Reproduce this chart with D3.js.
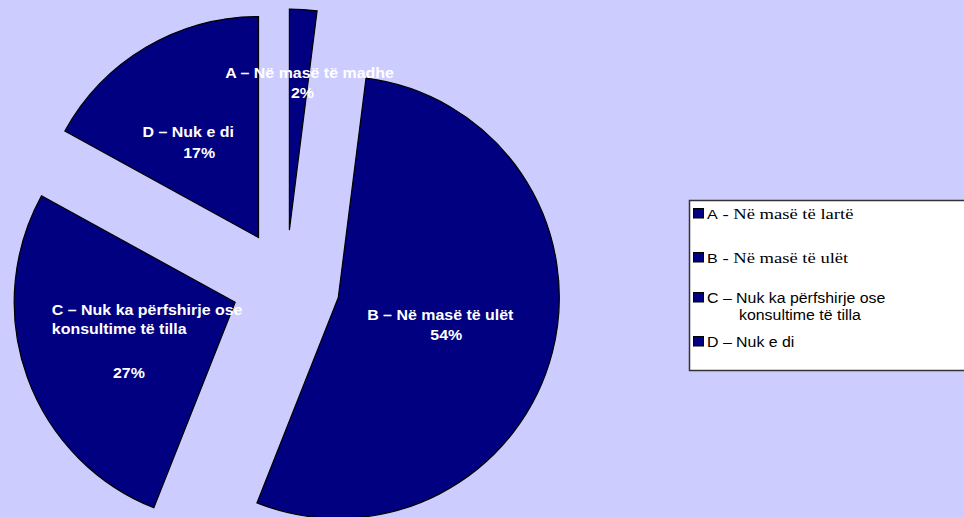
<!DOCTYPE html>
<html>
<head>
<meta charset="utf-8">
<script src="https://cdn.jsdelivr.net/npm/d3@7"></script>
<style>
  html, body { margin: 0; padding: 0; background: #CCCCFF; }
  svg { display: block; }
</style>
</head>
<body>
<svg id="chart" width="964" height="517"></svg>
<script>
// ---- Data ----
const categories = ["A – Në masë të madhe", "B – Në masë të ulët", "C – Nuk ka përfshirje ose konsultime të tilla", "D – Nuk e di"];
const values = [2, 54, 27, 17];
const legendLabels = ["A - Në masë të lartë", "B - Në masë të ulët", "C – Nuk ka përfshirje ose konsultime të tilla", "D – Nuk e di"];

// ---- Layout ----
const W = 964, H = 517;
const cx = 286, cy = 284, R = 221, explode = 54;
const fill = "#000080";
const SANS = "'Liberation Sans', Arial, sans-serif";
const SERIF = "'Liberation Serif', 'Times New Roman', serif";
const svg = d3.select("#chart");

svg.append("rect").attr("width", W).attr("height", H).attr("fill", "#CCCCFF");

const pie = d3.pie().sort(null).value(d => d).startAngle(0).endAngle(2 * Math.PI);
const arcs = pie(values);
const arc = d3.arc().innerRadius(0).outerRadius(R);

function polar(angle, r) { return [r * Math.sin(angle), -r * Math.cos(angle)]; }

const g = svg.append("g").attr("transform", `translate(${cx},${cy})`);

const apex = arcs.map(a => polar((a.startAngle + a.endAngle) / 2, explode));

g.selectAll("path.slice").data(arcs).join("path")
  .attr("class", "slice")
  .attr("d", arc)
  .attr("transform", (d, i) => `translate(${apex[i][0]},${apex[i][1]})`)
  .attr("fill", fill)
  .attr("stroke", "#000")
  .attr("stroke-width", 1.2)
  .attr("stroke-linejoin", "miter");

// text helper with horizontal stretch (the reference text is drawn wider than its height)
function stretchedText(parent, x, y, sx, txt) {
  return parent.append("text")
    .attr("transform", `translate(${x},${y}) scale(${sx},1)`)
    .text(txt);
}

// ---- Slice labels (Excel best-fit placement) ----
const deg = Math.PI / 180;
const pct = i => values[i] + "%";
const labelLayout = [
  { a: 6.3 * deg, r: 147, lines: [
      { t: categories[0], dx: 4, dy: -6, anchor: "middle" },
      { t: pct(0), dx: -3, dy: 14, anchor: "middle" } ] },
  { a: 107.4 * deg, r: 110, lines: [
      { t: categories[1], dx: -3, dy: -10, anchor: "middle" },
      { t: pct(1), dx: 3, dy: 10, anchor: "middle" } ] },
  { a: 245.6 * deg, r: 97, lines: [
      { t: "C – Nuk ka përfshirje ose", dx: -95, dy: -27, anchor: "start" },
      { t: "konsultime të tilla", dx: -95, dy: -8, anchor: "start" },
      { t: pct(2), dx: -18, dy: 36, anchor: "middle" } ] },
  { a: 323.7 * deg, r: 112, lines: [
      { t: categories[3], dx: -4, dy: -10, anchor: "middle" },
      { t: pct(3), dx: 7, dy: 11, anchor: "middle" } ] }
];

labelLayout.forEach((L, i) => {
  const p = polar(L.a, L.r);
  const ax = apex[i][0] + p[0], ay = apex[i][1] + p[1];
  L.lines.forEach(line => {
    stretchedText(g, ax + line.dx, ay + line.dy, 1.14, line.t)
      .attr("text-anchor", line.anchor)
      .attr("font-family", SANS)
      .attr("font-weight", "bold")
      .attr("font-size", 14)
      .attr("fill", "#fff");
  });
});

// ---- Legend ----
const lg = svg.append("g");
lg.append("rect")
  .attr("x", 689.5).attr("y", 200.5)
  .attr("width", 290).attr("height", 170)
  .attr("fill", "#fff").attr("stroke", "#333").attr("stroke-width", 1.5);

const legendRows = [
  { y: 219, serif: true },
  { y: 263, serif: true },
  { y: 303, serif: false, wrap: ["C – Nuk ka përfshirje ose", "konsultime të tilla"] },
  { y: 347, serif: false }
];

legendRows.forEach((row, i) => {
  lg.append("rect")
    .attr("x", 693.5).attr("y", row.y - 10.5)
    .attr("width", 10).attr("height", 9.5)
    .attr("fill", fill).attr("stroke", "#000").attr("stroke-width", 1);
  if (row.serif) {
    const label = legendLabels[i];
    const t = stretchedText(lg, 707, row.y, 1.24, null).attr("fill", "#000");
    t.append("tspan")
      .attr("font-family", SANS).attr("font-size", 13)
      .text(label.slice(0, 1));
    t.append("tspan")
      .attr("font-family", SERIF).attr("font-size", 15)
      .text(label.slice(1));
  } else if (row.wrap) {
    stretchedText(lg, 707, row.y, 1.06, row.wrap[0])
      .attr("font-family", SANS).attr("font-size", 15).attr("fill", "#000");
    stretchedText(lg, 739, row.y + 17, 1.06, row.wrap[1])
      .attr("font-family", SANS).attr("font-size", 15).attr("fill", "#000");
  } else {
    stretchedText(lg, 707, row.y, 1.06, legendLabels[i])
      .attr("font-family", SANS).attr("font-size", 15).attr("fill", "#000");
  }
});
</script>
</body>
</html>
